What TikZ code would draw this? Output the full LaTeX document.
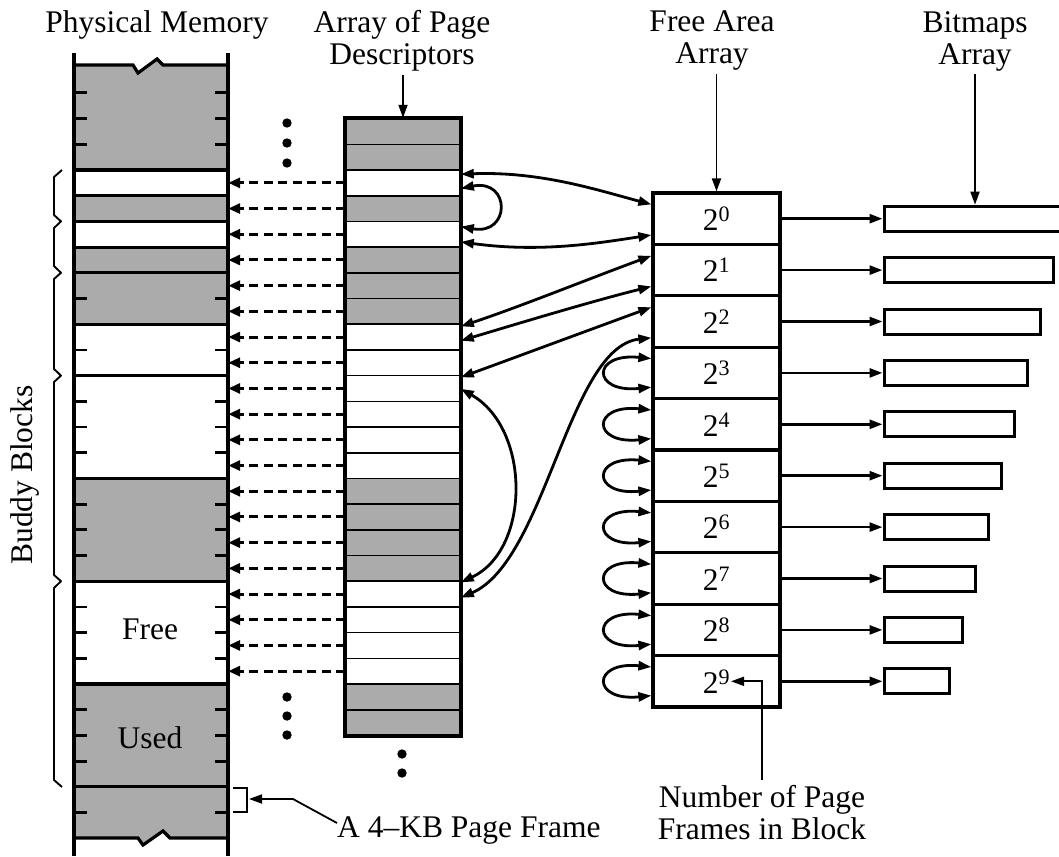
\documentclass[tikz,border=0pt]{standalone}
\usepackage{fontspec}
\setmainfont{Liberation Serif}
\usetikzlibrary{arrows.meta}
\begin{document}
\begin{tikzpicture}[x=1pt,y=-1pt,
  every node/.style={font=\fontsize{31.5}{32}\selectfont},
  >={Triangle[length=13pt,width=9pt]},
  shade/.style={fill=black!33},
  frm/.style={rectangle,draw=none,minimum width=154pt,minimum height=25.7pt,inner sep=0pt},
  desc/.style={rectangle,draw,line width=1.6pt,minimum width=114pt,minimum height=25.7pt,inner sep=0pt},
  fa/.style={rectangle,draw,line width=3.2pt,minimum width=127pt,minimum height=51.4pt,inner sep=0pt},
  bm/.style={rectangle,draw,line width=3pt,minimum height=25pt,inner sep=0pt},
  link/.style={line width=2.8pt,<->},
  dasharrow/.style={line width=3pt,dash pattern=on 9pt off 5.5pt,-{Triangle[length=12pt,width=10pt]}},
  ptr/.style={line width=1.8pt,->},
  blk/.style={line width=3.2pt},
  tick/.style={line width=2.8pt},
]
\useasboundingbox (0,0) rectangle (1059,856);

% ---------- physical memory ----------
\foreach \k in {0,2,6,7,8,9,10,11,16,17,18,19}
  \node[frm,fill=white] (m\k) at (151,{170+25.7*(\k+0.5)}) {};
\foreach \k in {1,3,4,5,12,13,14,15,20,21,22,23}
  \node[frm,shade] (m\k) at (151,{170+25.7*(\k+0.5)}) {};
\fill[black!33] (74,65) -- (133,65) -- (138,73) -- (157,59) -- (163,65) -- (228,65)
  -- (228,170) -- (74,170) -- cycle;
\fill[black!33] (74,786.8) -- (228,786.8) -- (228,838) -- (170,838) -- (163,831)
  -- (143,845) -- (138,838) -- (74,838) -- cycle;
\draw[blk,line join=miter] (74,65) -- (133,65) -- (138,73) -- (157,59) -- (163,65) -- (228,65);
\draw[blk,line join=miter] (74,838) -- (138,838) -- (143,845) -- (163,831) -- (170,838) -- (228,838);
\foreach \y in {170,195.7,221.4,247.1,272.8,324.2,375.6,478.4,581.2,684,786.8}
  \draw[blk] (74,\y) -- (228,\y);
\foreach \y in {92.9,118.6,144.3,298.5,349.9,401.3,427,452.7,504.1,529.8,555.5,606.9,632.6,658.3,709.7,735.4,761.1,812.5}
  {\draw[tick] (74,\y) -- (87,\y); \draw[tick] (215,\y) -- (228,\y);}
\draw[line width=3.4pt] (74,53) -- (74,856);
\draw[line width=3.4pt] (228,53) -- (228,856);
\node (free) at (150,629) {Free};
\node (used) at (150,738) {Used};

% brace
\draw[line width=1.9pt,line join=round] (62,170) -- (54,177) -- (54,215) -- (61,221.4) -- (54,228)
  -- (54,266) -- (61,272.8) -- (54,279) -- (54,369) -- (61,375.6) -- (54,382)
  -- (54,575) -- (61,581.2) -- (54,588) -- (54,780) -- (62,787);
\node[rotate=90] (bb) at (25,475) {Buddy Blocks};

% 4-KB page frame
\draw[line width=1.7pt] (233,788) -- (247,788) -- (247,812) -- (233,812);
\coordinate (brk) at (249,799);
\coordinate (kbb) at (293,799);
\node[anchor=west,inner sep=0pt] (kb) at (337,830) {A 4–KB Page Frame};
\draw[ptr] ([yshift=7pt]kb.west) -- (kbb) -- (brk);

% ---------- page descriptors ----------
\foreach \k in {0,2,6,7,8,9,10,11,16,17,18,19}
  \node[desc,fill=white] (d\k) at (403,{170+25.7*(\k+0.5)}) {};
\foreach \k in {-2,-1,1,3,4,5,12,13,14,15,20,21}
  \node[desc,shade] (d\k) at (403,{170+25.7*(\k+0.5)}) {};
\draw[line width=3.6pt] (d-2.north west) rectangle (d21.south east);

\foreach \k in {0,...,19}
  \draw[dasharrow] (d\k.west) -- (m\k.east);

% dots
\fill (287,123) circle (4.7pt);
\fill (287,143) circle (4.7pt);
\fill (287,163) circle (4.7pt);
\fill (287,697) circle (4.7pt);
\fill (287,716) circle (4.7pt);
\fill (287,735) circle (4.7pt);
\fill (402,754) circle (4.7pt);
\fill (402,773) circle (4.7pt);

% ---------- free area array ----------
\foreach \i in {0,...,9}
  \node[fa] (f\i) at (716.5,{193+51.4*(\i+0.5)}) {2\textsuperscript{\i}};

% ---------- bitmaps ----------
\foreach \i in {0,...,9}{
  \node[bm,minimum width={(182-13*\i)*1pt}] (b\i) at ({884+(182-13*\i)/2},{193+51.4*(\i+0.5)}) {};
  \draw[line width=2.6pt,->] (f\i.east) -- (b\i.west);
}

% ---------- labels ----------
\node (pm) at (157,25) {Physical Memory};
\node[align=center] (apd) at (402,41) {Array of Page\\Descriptors};
\node[align=center] (faa) at (712,41) {Free Area\\Array};
\node[align=center] (bma) at (975,41) {Bitmaps\\Array};
\draw[ptr] (apd.south -| d-2.north) -- (d-2.north);
\draw[ptr] (faa.south -| f0.north) -- (f0.north);
\draw[ptr] (bma.south -| b0.north) -- (b0.north);

\node[align=center,inner sep=6pt] (nlab) at (762,813) {Number of Page\\Frames in Block};
\coordinate (p9) at (731,681.3);
\draw[ptr] (nlab.north) |- (p9);

% ---------- list links ----------
\draw[link] ([yshift=-5pt]d0.north east) .. controls +(80,-3) and +(-53,-14) .. ([yshift=-13pt]f0.north west);
\draw[link] ([yshift=8pt]d0.south east) .. controls +(50,-10) and +(50,9) .. ([yshift=-6pt]d2.north east);
\draw[link] ([yshift=6pt]d2.south east) .. controls +(80,11) and +(-53,8) .. ([yshift=11pt]f0.south west);
\draw[link] ([yshift=-13pt]f1.north west) .. controls +(-60,22) and +(60,-20) .. ([yshift=-3pt]d6.north east);
\draw[link] ([yshift=11pt]f1.south west) .. controls +(-60,15) and +(60,-18) .. ([yshift=10pt]d6.south east);
\draw[link] ([yshift=-13pt]f2.north west) .. controls +(-60,22) and +(60,-22) .. ([yshift=-2.5pt]d8.north east);
\draw[link] ([yshift=-14pt]d8.north east) .. controls +(70,40) and +(70,-33) .. ([yshift=-2pt]d16.north east);
\draw[link] ([yshift=11pt]f2.south west) .. controls +(-83,9) and +(85,-37) .. ([yshift=10pt]d16.south east);
\foreach \i in {3,...,9}
  \draw[link] ([yshift=-13pt]f\i.north west) .. controls +(-60,-6) and +(-60,6) .. ([yshift=13pt]f\i.south west);
\end{tikzpicture}
\end{document}
